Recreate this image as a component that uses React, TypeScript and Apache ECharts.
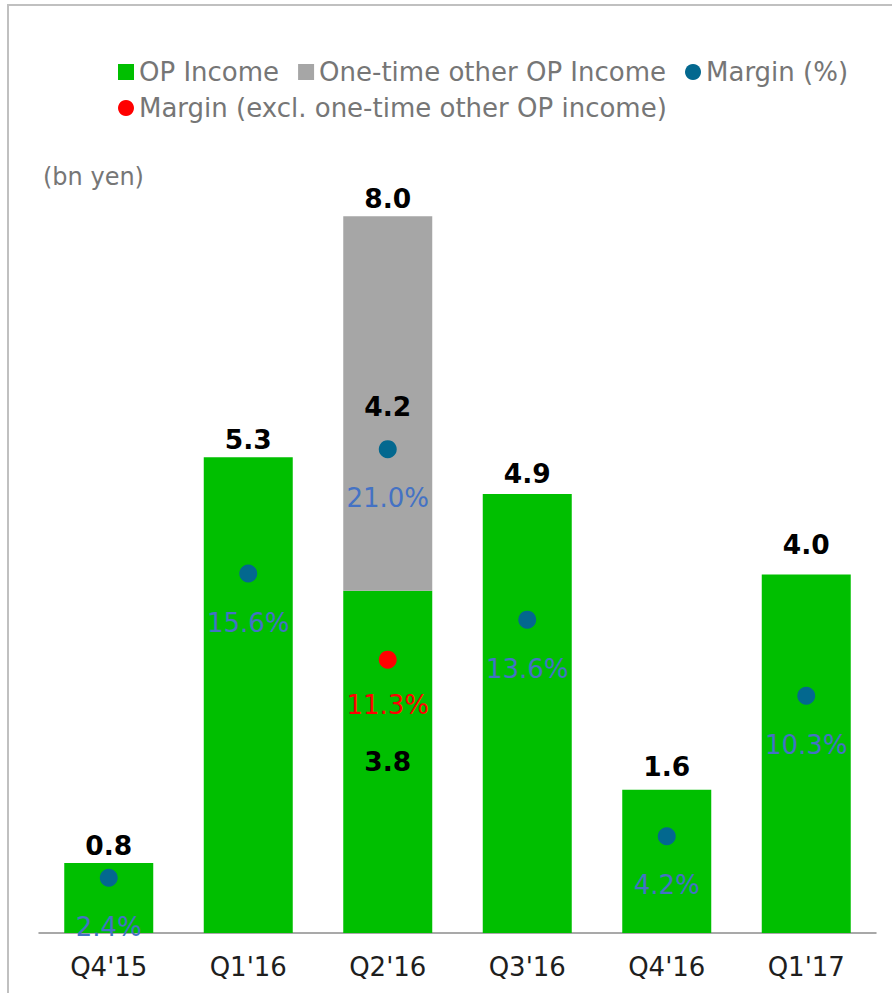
import React, { useEffect, useRef } from "react";
import * as echarts from "echarts";

const categories = ["Q4'15", "Q1'16", "Q2'16", "Q3'16", "Q4'16", "Q1'17"];
const opIncome = [0.78, 5.31, 3.82, 4.9, 1.6, 4.0];
const oneTimeOpIncome: (number | null)[] = [null, null, 4.18, null, null, null];
const marginPct = [2.4, 15.6, 21.0, 13.6, 4.2, 10.3];
const marginExclPct: (number | null)[] = [null, null, 11.3, null, null, null];

const FONT = "DejaVu Sans";

export default function App() {
  const ref = useRef<HTMLDivElement>(null);

  useEffect(() => {
    if (!ref.current) return;
    const chart = echarts.init(ref.current, null, { renderer: "svg" });
    const totals = opIncome.map((v, i) => v + (oneTimeOpIncome[i] ?? 0));
    // extra label lift (px) per category, matching hand-placed labels in the original
    const totalLabelLift = [0, 0, 0, 2, 5, 12];

    const boldLabel = {
      fontSize: 26.5,
      fontWeight: "bold",
      color: "#000",
      fontFamily: FONT,
    };

    const option: any = {
      animation: false,
      backgroundColor: "#ffffff",
      textStyle: { fontFamily: FONT },
      graphic: [
        {
          type: "rect",
          shape: { x: 8, y: 5, width: 900, height: 1000 },
          style: { fill: "none", stroke: "#C0C0C0", lineWidth: 2 },
          silent: true,
        },
        {
          type: "text",
          left: 43,
          top: 165,
          style: { text: "(bn yen)", fontSize: 24, fill: "#767676", fontFamily: FONT },
        },
      ],
      legend: [
        {
          left: 113,
          top: 54,
          itemWidth: 16,
          itemHeight: 16,
          itemGap: 19,
          textStyle: { fontSize: 26, color: "#767676", fontFamily: FONT },
          data: [
            { name: "OP Income", icon: "rect" },
            { name: "One-time other OP Income", icon: "rect" },
            { name: "Margin (%)", icon: "circle" },
          ],
        },
        {
          left: 113,
          top: 90,
          itemWidth: 16,
          itemHeight: 16,
          textStyle: { fontSize: 26, color: "#767676", fontFamily: FONT },
          data: [{ name: "Margin (excl. one-time other OP income)", icon: "circle" }],
        },
      ],
      grid: { left: 39, right: 16, top: 126.6, bottom: 60 },
      xAxis: {
        type: "category",
        data: categories,
        axisLine: { lineStyle: { color: "#8C8C8C", width: 1.5 } },
        axisTick: { show: false },
        axisLabel: { fontSize: 26, color: "#1E1E1E", margin: 21, fontFamily: FONT },
      },
      yAxis: [
        { type: "value", min: 0, max: 9, show: false, splitLine: { show: false } },
        { type: "value", min: 0, max: 35, show: false, splitLine: { show: false } },
      ],
      series: [
        {
          name: "OP Income",
          type: "bar",
          stack: "op",
          barWidth: 89,
          itemStyle: { color: "#00BF00" },
          data: opIncome.map((v, i) =>
            oneTimeOpIncome[i] != null
              ? {
                  value: v,
                  label: {
                    show: true,
                    position: "inside",
                    formatter: (p: any) => p.value.toFixed(1),
                    ...boldLabel,
                  },
                }
              : v
          ),
        },
        {
          name: "One-time other OP Income",
          type: "bar",
          stack: "op",
          barWidth: 89,
          itemStyle: { color: "#A6A6A6" },
          label: {
            show: true,
            position: "inside",
            offset: [0, 3],
            formatter: (p: any) => p.value.toFixed(1),
            ...boldLabel,
          },
          data: oneTimeOpIncome,
        },
        {
          name: "Total",
          type: "scatter",
          symbol: "circle",
          symbolSize: 1,
          silent: true,
          itemStyle: { color: "rgba(0,0,0,0)", opacity: 1 },
          label: {
            show: true,
            position: "top",
            formatter: (p: any) => p.value.toFixed(1),
            ...boldLabel,
          },
          data: totals.map((v, i) => ({
            value: v,
            label: { distance: 4 + totalLabelLift[i] },
          })),
        },
        {
          name: "Margin (%)",
          type: "scatter",
          yAxisIndex: 1,
          symbol: "circle",
          symbolSize: 18,
          itemStyle: { color: "#03688F", opacity: 1 },
          label: {
            show: true,
            position: "inside",
            offset: [0, 49],
            formatter: (p: any) => p.value.toFixed(1) + "%",
            fontSize: 26,
            color: "#4472C4",
            fontFamily: FONT,
          },
          data: marginPct,
          z: 5,
        },
        {
          name: "Margin (excl. one-time other OP income)",
          type: "scatter",
          yAxisIndex: 1,
          symbol: "circle",
          symbolSize: 18,
          symbolOffset: [0, -13],
          itemStyle: { color: "#FF0000", opacity: 1 },
          label: {
            show: true,
            position: "inside",
            offset: [0, 45],
            formatter: (p: any) => p.value.toFixed(1) + "%",
            fontSize: 26,
            color: "#FF0000",
            fontFamily: FONT,
          },
          data: marginExclPct,
          z: 5,
        },
      ],
    };

    chart.setOption(option);
    return () => chart.dispose();
  }, []);

  return (
    <div
      ref={ref}
      style={{ position: "absolute", left: 0, top: 0, width: 892, height: 993 }}
    />
  );
}
